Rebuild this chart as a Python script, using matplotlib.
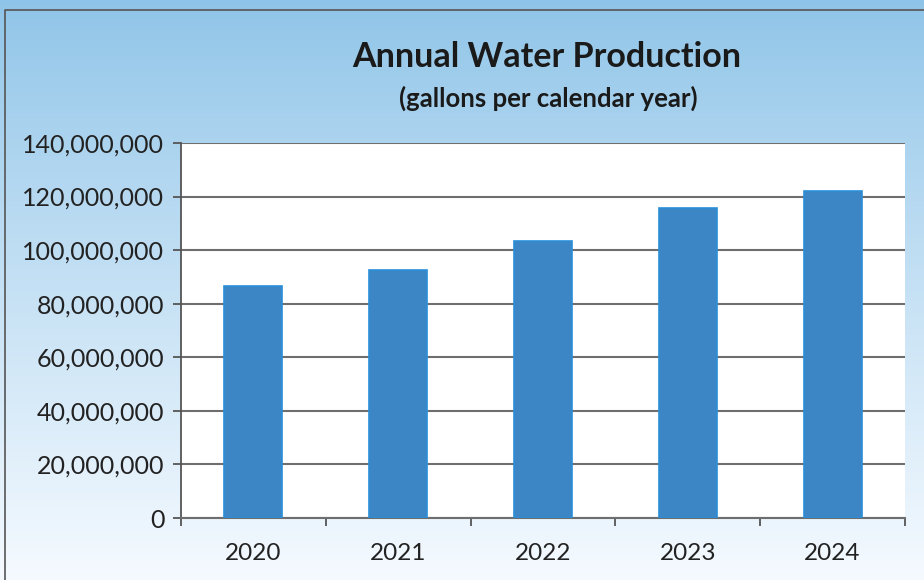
import numpy as np
import matplotlib.pyplot as plt
from matplotlib.ticker import FuncFormatter

years = ['2020', '2021', '2022', '2023', '2024']
gallons = [86600000, 92600000, 103400000, 115800000, 122100000]
y_ticks = [0, 20000000, 40000000, 60000000, 80000000, 100000000, 120000000, 140000000]

plt.rcParams['font.family'] = ['Lato', 'DejaVu Sans']

fig = plt.figure(figsize=(9.24, 5.8), dpi=100)

# background gradient, blue at top fading to white
bg = fig.add_axes([0, 0, 1, 1], zorder=0)
grad = np.linspace(0, 1, 256).reshape(-1, 1)
top = np.array([0.56, 0.77, 0.91])
bot = np.array([0.96, 0.98, 1.0])
img = top + (bot - top) * grad[..., None] ** 0.9
bg.imshow(img, aspect='auto', extent=[0, 1, 0, 1], origin='upper')
bg.set_xlim(0, 1)
bg.set_ylim(0, 1)
bg.axis('off')
# frame of the chart
bg.plot([0.005, 0.005, 1], [0, 0.982, 0.982], color='#555555', lw=1.2)

ax = fig.add_axes([181 / 924, 1 - 518 / 580, 724 / 924, 375 / 580], zorder=1)
ax.set_facecolor('white')
x = np.arange(len(years))
ax.bar(x, gallons, width=0.4, color='#3c86c5', edgecolor='#2a8fd8', linewidth=1.2, zorder=3)

ax.set_xlim(-0.5, len(years) - 0.5)
ax.set_ylim(0, 140000000)
ax.set_yticks(y_ticks)
ax.yaxis.set_major_formatter(FuncFormatter(lambda v, p: f'{int(v):,}'))
ax.grid(axis='y', color='#6e6e6e', linewidth=1.5, zorder=1)
ax.set_xticks(x)
ax.set_xticklabels(years)
ax.set_xticks(np.arange(len(years) + 1) - 0.5, minor=True)
ax.tick_params(axis='x', which='major', length=0, pad=18, labelsize=17.5, colors='#222222')
ax.tick_params(axis='x', which='minor', length=6, width=1.3, color='#555555', direction='out')
ax.tick_params(axis='y', length=6, width=1.3, color='#555555', labelsize=18, labelcolor='#222222', pad=6)
for s in ['top', 'right']:
    ax.spines[s].set_visible(False)
ax.spines['left'].set_color('#555555')
ax.spines['left'].set_linewidth(1.3)
ax.spines['bottom'].set_color('#6e6e6e')
ax.spines['bottom'].set_linewidth(1.5)

fig.text(547 / 924, 1 - 57 / 580, 'Annual Water Production', ha='center', va='center',
         fontsize=24.5, fontweight='bold', color='#1a1a1a')
fig.text(548 / 924, 1 - 98 / 580, '(gallons per calendar year)', ha='center', va='center',
         fontsize=18.5, fontweight='bold', color='#1a1a1a')

fig.savefig('out.png', dpi=100)
